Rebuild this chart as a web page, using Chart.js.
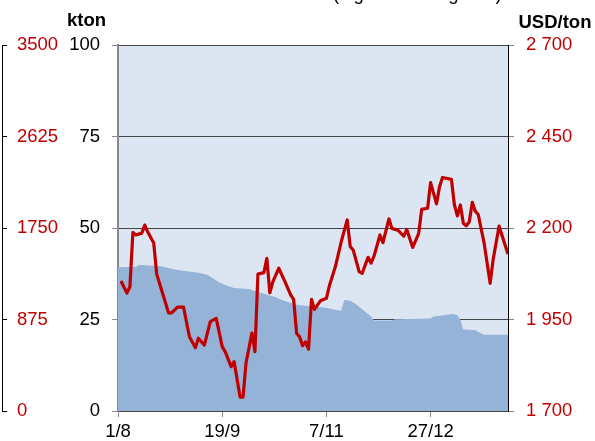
<!DOCTYPE html>
<html>
<head>
<meta charset="utf-8">
<script src="https://cdn.jsdelivr.net/npm/chart.js@4/dist/chart.umd.min.js"></script>
<style>
  html, body { margin:0; padding:0; background:#fff; }
  #wrap { width:595px; height:441px; }
</style>
</head>
<body>
<div id="wrap"><canvas id="chart" width="595" height="441"></canvas></div>
<script>
// x = trading day index from 1/8
const xTickVals = [0, 35, 70, 105];
const xLabels = ['1/8', '19/9', '7/11', '27/12'];

// stock (kton, left axis)
const stockIdx = [0,6,7,14,20,27,30,34,36,39,44,47,53,55,60,64,70,72,75,76,78,80,82,85,86,92,93,105,106,110,112,114,115,116,120,122,123,131];
const stock = [39.3,39.4,39.9,39.6,38.5,37.8,37.2,35.2,34.4,33.6,33.3,32.5,31.1,30.3,29.0,28.7,28.2,27.8,27.4,30.3,30.1,29.2,27.8,25.8,24.7,24.7,25.1,25.3,25.8,26.2,26.5,26.2,24.9,22.3,22.1,21.2,20.8,20.8];

// price (USD/ton, right axis)
const priceIdx = [1,3,4,5,6,8,9,10,12,13,17,18,20,22,24,26,27,29,31,33,35,36,38,39,41,42,43,45,46,47,49,50,51,52,54,56,58,59,60,61,62,63,64,65,66,68,70,71,73,75,77,78,79,81,82,84,85,86,88,89,91,92,94,96,97,99,101,102,104,105,107,108,109,112,113,114,115,116,117,118,119,120,121,123,125,126,128,131];
const price = [2055,2022,2039,2188,2181,2186,2208,2189,2159,2074,1968,1968,1984,1984,1903,1873,1899,1880,1944,1953,1876,1862,1821,1835,1738,1738,1831,1913,1862,2074,2078,2117,2023,2053,2090,2055,2017,2005,1912,1903,1878,1889,1869,2005,1978,2001,2008,2042,2094,2163,2222,2149,2140,2081,2076,2120,2104,2123,2181,2160,2225,2199,2194,2178,2196,2147,2185,2251,2254,2324,2266,2313,2338,2333,2263,2233,2263,2213,2206,2217,2270,2246,2237,2158,2049,2113,2205,2129];

const RED = '#c00000';
const FONT = 'Liberation Sans, Arial, sans-serif';
const spaced = v => String(v).replace(/\B(?=(\d{3})+(?!\d))/g, ' ');

Chart.defaults.font.family = FONT;
Chart.defaults.font.size = 18.5;
Chart.defaults.color = '#000';

const plotBg = {
  id: 'plotBg',
  beforeDraw(chart) {
    const { ctx, chartArea: a } = chart;
    ctx.save();
    ctx.fillStyle = '#dce6f2';
    ctx.fillRect(a.left, a.top, a.right - a.left, a.bottom - a.top);
    ctx.restore();
  }
};

const headers = {
  id: 'headers',
  afterDraw(chart) {
    const ctx = chart.ctx;
    ctx.save();
    ctx.fillStyle = '#000';
    ctx.textBaseline = 'alphabetic';
    ctx.font = '18.5px ' + FONT;
    ctx.fillText('(high and low grade)', 333, 0);
    ctx.font = 'bold 18.5px ' + FONT;
    ctx.fillText('kton', 67, 26);
    ctx.fillText('USD/ton', 518.5, 28);
    ctx.restore();
  }
};

new Chart(document.getElementById('chart'), {
  type: 'line',
  data: {
    datasets: [
      {
        label: 'Price',
        data: priceIdx.map((x, i) => ({ x, y: price[i] })),
        yAxisID: 'y1',
        borderColor: RED,
        borderWidth: 3.2,
        borderJoinStyle: 'round',
        pointRadius: 0,
        tension: 0,
        fill: false
      },
      {
        label: 'Stock',
        data: stockIdx.map((x, i) => ({ x, y: stock[i] })),
        yAxisID: 'y',
        borderWidth: 0,
        backgroundColor: '#95b3d7',
        pointRadius: 0,
        tension: 0,
        fill: 'origin'
      }
    ]
  },
  options: {
    responsive: false,
    devicePixelRatio: 1,
    animation: false,
    layout: { padding: { top: 45, left: 0, right: 0, bottom: 0 } },
    plugins: { legend: { display: false }, tooltip: { enabled: false }, title: { display: false } },
    scales: {
      x: {
        type: 'linear',
        min: 0, max: 131,
        z: 1,
        afterBuildTicks: s => { s.ticks = xTickVals.map(v => ({ value: v })); },
        afterFit: s => { s.height = 30; },
        ticks: { callback: v => xLabels[xTickVals.indexOf(v)] ?? '', padding: 4, maxRotation: 0, autoSkip: false },
        grid: { drawOnChartArea: false, tickLength: 6, tickColor: '#888' },
        border: { color: '#404040', width: 1.5 }
      },
      // stray axis of the neighbouring chart, cropped at the left edge
      yL: {
        position: 'left',
        weight: 10,
        min: 0, max: 3500,
        afterFit: s => { s.width = 2; },
        ticks: { stepSize: 875, mirror: true, padding: 15, color: RED, callback: v => String(v) },
        grid: { drawOnChartArea: false, tickLength: -5, tickColor: '#000' },
        border: { color: '#000', width: 1 }
      },
      y: {
        position: 'left',
        weight: 0,
        min: 0, max: 100,
        afterFit: s => { s.width = 116; },
        ticks: { stepSize: 25, padding: 12, color: '#000' },
        grid: { color: '#444', lineWidth: 1, tickLength: 6, tickColor: '#888' },
        border: { color: '#888', width: 2 }
      },
      y1: {
        position: 'right',
        min: 1700, max: 2700,
        z: 1,
        afterFit: s => { s.width = 87; },
        ticks: { stepSize: 250, padding: 12, color: RED, callback: v => spaced(v) },
        grid: { drawOnChartArea: false, tickLength: 6, tickColor: '#888' },
        border: { color: '#000', width: 1 }
      }
    }
  },
  plugins: [plotBg, headers]
});
</script>
</body>
</html>
